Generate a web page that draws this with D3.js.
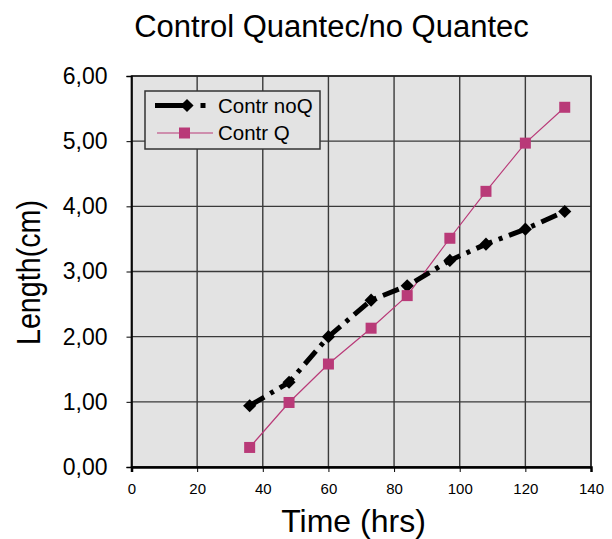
<!DOCTYPE html>
<html>
<head>
<meta charset="utf-8">
<script src="https://cdn.jsdelivr.net/npm/d3@7"></script>
<style>
body { margin: 0; background: #fff; }
text { font-family: "Liberation Sans", Arial, sans-serif; }
</style>
</head>
<body>
<script>
// small stand-in for d3-selection-multi
d3.selection.prototype.attrs = function(map) {
    var sel = this;
    Object.keys(map).forEach(function(k) { sel.attr(k, map[k]); });
    return sel;
};

var width = 612;
var height = 539;
var hours = [36, 48, 60, 73, 84, 97, 108, 120, 132];
var noQ = [0.94, 1.30, 2.00, 2.56, 2.78, 3.17, 3.42, 3.65, 3.92];
var withQ = [0.30, 0.99, 1.58, 2.13, 2.63, 3.51, 4.23, 4.97, 5.52];
var xTicks = [0, 20, 40, 60, 80, 100, 120, 140];
var yTicks = [0, 1, 2, 3, 4, 5, 6];
var seriesNames = ["Contr noQ", "Contr Q"];
var pink = "rgb(185, 58, 120)";
var plotBg = "rgb(227, 227, 227)";

var margin = {left: 131.5, right: 21, top: 76, bottom: 72};

var svg = d3.select("body").append("svg")
    .attr("width", width)
    .attr("height", height);

var x = d3.scaleLinear().domain([0, 140]).range([margin.left, width - margin.right]);
var y = d3.scaleLinear().domain([0, 6]).range([height - margin.bottom, margin.top]);

// plot background
svg.append("rect").attrs({
    "x": x(0), "y": y(6),
    "width": x(140) - x(0), "height": y(0) - y(6),
    "fill": plotBg
});

// grid
yTicks.forEach(function(t) {
    svg.append("line").attrs({
        "x1": x(0), "x2": x(140), "y1": y(t), "y2": y(t),
        "stroke": "#3a3a3a", "stroke-width": 1.4
    });
});
xTicks.forEach(function(t) {
    svg.append("line").attrs({
        "x1": x(t), "x2": x(t), "y1": y(0), "y2": y(6),
        "stroke": "#3a3a3a", "stroke-width": 1.4
    });
});

// border
svg.append("rect").attrs({
    "x": x(0), "y": y(6),
    "width": x(140) - x(0), "height": y(0) - y(6),
    "fill": "none", "stroke": "#222", "stroke-width": 1.5
});

// axes
var xAxis = d3.axisBottom(x).tickValues(xTicks).tickSize(5).tickPadding(11);
var gx = svg.append("g").attr("transform", "translate(0," + y(0) + ")").call(xAxis);
gx.select(".domain").attr("stroke-width", 2.5);
gx.selectAll("text").attr("font-size", 15).attr("fill", "#000")
    .attr("font-family", "Liberation Sans, Arial, sans-serif");

var yAxis = d3.axisLeft(y).tickValues(yTicks).tickSize(5).tickPadding(19)
    .tickFormat(function(d) { return d3.format(".2f")(d).replace(".", ","); });
var gy = svg.append("g").attr("transform", "translate(" + x(0) + ",0)").call(yAxis);
gy.select(".domain").attr("stroke-width", 1.5);
gy.selectAll("text").attr("font-size", 23).attr("fill", "#000")
    .attr("font-family", "Liberation Sans, Arial, sans-serif");

// lines
var lineQ = d3.line().x(function(d, i) { return x(hours[i]); }).y(function(d) { return y(d); });
svg.append("path").datum(withQ).attrs({
    "d": lineQ, "fill": "none", "stroke": pink, "stroke-width": 1.2
});
svg.append("path").datum(noQ).attrs({
    "d": lineQ, "fill": "none", "stroke": "#000", "stroke-width": 5,
    "stroke-dasharray": "17,7,4,7"
});

var diamond = d3.symbol().type(d3.symbolDiamond2).size(110);
svg.selectAll(".m1").data(noQ).enter().append("path").attrs({
    "d": diamond,
    "transform": function(d, i) { return "translate(" + x(hours[i]) + "," + y(d) + ")"; },
    "fill": "#000"
});
svg.selectAll(".m2").data(withQ).enter().append("rect").attrs({
    "x": function(d, i) { return x(hours[i]) - 5.5; },
    "y": function(d) { return y(d) - 5.5; },
    "width": 11, "height": 11, "fill": pink
});

// legend
var lg = svg.append("g");
lg.append("rect").attrs({
    "x": 145, "y": 91, "width": 175, "height": 58,
    "fill": plotBg, "stroke": "#333", "stroke-width": 1.5
});
lg.append("line").attrs({
    "x1": 155, "x2": 188, "y1": 105.5, "y2": 105.5, "stroke": "#000", "stroke-width": 5
});
lg.append("rect").attrs({
    "x": 200.5, "y": 103, "width": 5, "height": 5, "fill": "#000"
});
lg.append("path").attrs({
    "d": diamond, "transform": "translate(187,105.5)", "fill": "#000"
});
lg.append("line").attrs({
    "x1": 157, "x2": 213, "y1": 133, "y2": 133, "stroke": pink, "stroke-width": 1.2
});
lg.append("rect").attrs({
    "x": 179, "y": 127.5, "width": 11, "height": 11, "fill": pink
});
lg.selectAll("text").data(seriesNames).enter().append("text").attrs({
    "x": 218, "y": function(d, i) { return 113 + i * 27; },
    "font-size": 20.5
}).text(function(d) { return d; });

// titles
svg.append("text").attrs({
    "x": 331.5, "y": 37, "text-anchor": "middle", "font-size": 31
}).text("Control Quantec/no Quantec");
svg.append("text").attrs({
    "x": 353.5, "y": 532, "text-anchor": "middle", "font-size": 32
}).text("Time (hrs)");
svg.append("text").attrs({
    "transform": "translate(40,272.5) rotate(-90) scale(0.87,1)",
    "text-anchor": "middle", "font-size": 33
}).text("Length(cm)");
</script>
</body>
</html>
